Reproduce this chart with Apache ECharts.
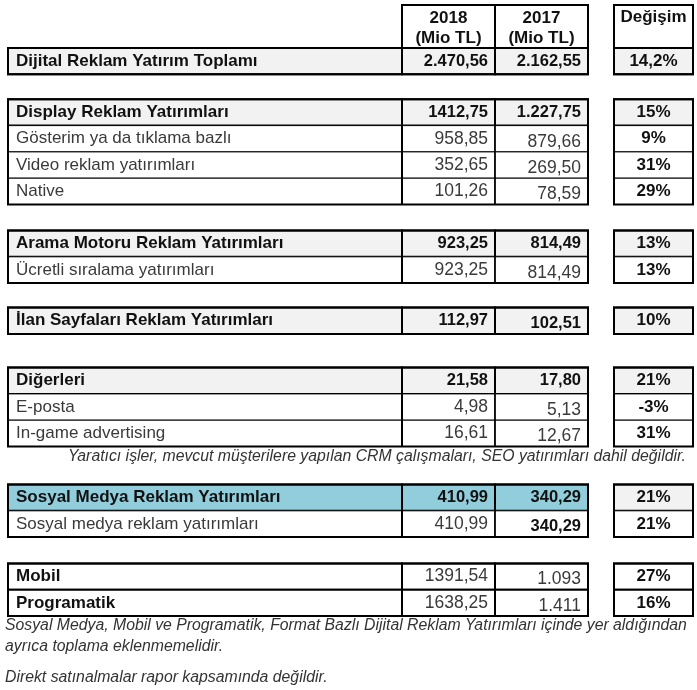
<!DOCTYPE html>
<html>
<head>
<meta charset="utf-8">
<script src="https://cdn.jsdelivr.net/npm/echarts@6/dist/echarts.min.js"></script>
<style>
  html, body { margin: 0; background: #fff; }
  #main { width: 697px; height: 690px; }
</style>
</head>
<body>
<div id="main"></div>
<script>
// table data
var labels = [
  'Dijital Reklam Yatırım Toplamı',
  'Display Reklam Yatırımları',
  'Gösterim ya da tıklama bazlı',
  'Video reklam yatırımları',
  'Native',
  'Arama Motoru Reklam Yatırımları',
  'Ücretli sıralama yatırımları',
  'İlan Sayfaları Reklam Yatırımları',
  'Diğerleri',
  'E-posta',
  'In-game advertising',
  'Sosyal Medya Reklam Yatırımları',
  'Sosyal medya reklam yatırımları',
  'Mobil',
  'Programatik'
];
var v2018 = ['2.470,56', '1412,75', '958,85', '352,65', '101,26', '923,25', '923,25', '112,97',
  '21,58', '4,98', '16,61', '410,99', '410,99', '1391,54', '1638,25'];
var v2017 = ['2.162,55', '1.227,75', '879,66', '269,50', '78,59', '814,49', '814,49', '102,51',
  '17,80', '5,13', '12,67', '340,29', '340,29', '1.093', '1.411'];
var change = ['14,2%', '15%', '9%', '31%', '29%', '13%', '13%', '10%',
  '21%', '-3%', '31%', '21%', '21%', '27%', '16%'];
// row type: total / head / sub / social / plain (bold label, white)
var kinds = ['total', 'head', 'sub', 'sub', 'sub', 'head', 'sub', 'head',
  'head', 'sub', 'sub', 'social', 'sub', 'plain', 'plain'];
var groups = [0, 1, 1, 1, 1, 2, 2, 3, 4, 4, 4, 5, 5, 6, 6];
var yearHeads = ['2018\n(Mio TL)', '2017\n(Mio TL)'];
var changeHead = 'Değişim';
var noteTop = 'Yaratıcı işler, mevcut müşterilere yapılan CRM çalışmaları, SEO yatırımları dahil değildir.';
var notesBottom = [
  'Sosyal Medya, Mobil ve Programatik, Format Bazlı Dijital Reklam Yatırımları içinde yer aldığından',
  'ayrıca toplama eklenmemelidir.',
  'Direkt satınalmalar rapor kapsamında değildir.'
];
var bold2017 = [12];
var low2017 = [2, 3, 4, 6, 7, 9, 10, 12, 13, 14]; // 2017 cells sit a bit lower in the source

// layout (pixels)
var xL = 8, x18 = 402, x17 = 495, xEnd = 588, xC0 = 614, xC1 = 693;
var ROW_H = 26.3, TOP = 48, HEAD_TOP = 5;
var gapAfter = [25, 26, 24.5, 33.7, 38, 26.4];
var FONT = '"Liberation Sans", Arial, sans-serif';

var rowTop = [];
var y = TOP;
for (var i = 0; i < labels.length; i++) {
  if (i > 0 && groups[i] !== groups[i - 1]) y += gapAfter[groups[i - 1]];
  rowTop.push(y);
  y += ROW_H;
}
var groupBox = [];
groups.forEach(function (g, i) {
  if (!groupBox[g]) groupBox[g] = [rowTop[i], rowTop[i] + ROW_H];
  groupBox[g][1] = rowTop[i] + ROW_H;
});

var fills = { total: '#f2f2f2', head: '#f2f2f2', sub: '#ffffff', social: '#92cddc', plain: '#ffffff' };

function txt(s, x, y, align, bold, size, color) {
  return {
    type: 'text',
    style: {
      text: s, x: x, y: y, align: align, verticalAlign: 'middle',
      font: (bold ? 'bold ' : '') + (size || 17) + 'px ' + FONT,
      fill: color || (bold ? '#111' : '#3a3a3a')
    }
  };
}
function box(x0, y0, x1, y1, fill, lw) {
  return {
    type: 'rect',
    shape: { x: x0, y: y0, width: x1 - x0, height: y1 - y0 },
    style: { fill: fill, stroke: '#000', lineWidth: lw }
  };
}
function cols(api) {
  return [xL, x18, x17, xEnd, xC0, xC1].map(function (v) { return api.coord([v, 0])[0]; });
}

function renderRow(params, api) {
  var i = api.value(0);
  var t = api.coord([0, rowTop[i]])[1];
  var b = api.coord([0, rowTop[i] + ROW_H])[1];
  var mid = (t + b) / 2;
  var k = kinds[i];
  var isHead = k !== 'sub';
  var boldNum = k !== 'sub' && k !== 'plain';
  var b17 = boldNum || bold2017.indexOf(i) >= 0;
  var lw = isHead ? 2 : 1;
  var f = fills[k];
  var c = cols(api);
  var off17 = low2017.indexOf(i) >= 0 ? 3 : 0;
  return {
    type: 'group',
    children: [
      box(c[0], t, c[1], b, f, lw),
      box(c[1], t, c[2], b, f, lw),
      box(c[2], t, c[3], b, f, lw),
      box(c[4], t, c[5], b, k === 'social' ? '#f2f2f2' : f, lw),
      txt(labels[i], c[0] + 8, mid, 'left', isHead, 17),
      txt(v2018[i], c[2] - 7, mid, 'right', boldNum, boldNum ? 16.5 : 17.5),
      txt(v2017[i], c[3] - 7, mid + off17, 'right', b17, b17 ? 16.5 : 17.5),
      txt(change[i], (c[4] + c[5]) / 2, mid, 'center', true, 17)
    ]
  };
}

function renderGroup(params, api) {
  var g = api.value(0);
  var t = api.coord([0, groupBox[g][0]])[1];
  var b = api.coord([0, groupBox[g][1]])[1];
  var c = cols(api);
  return {
    type: 'group',
    children: [
      box(c[0], t, c[3], b, 'none', 2),
      box(c[4], t, c[5], b, 'none', 2),
      { type: 'line', shape: { x1: c[1], y1: t, x2: c[1], y2: b }, style: { stroke: '#000', lineWidth: 2 } },
      { type: 'line', shape: { x1: c[2], y1: t, x2: c[2], y2: b }, style: { stroke: '#000', lineWidth: 1.5 } }
    ]
  };
}

function renderHead(params, api) {
  var t = api.coord([0, HEAD_TOP])[1];
  var b = api.coord([0, TOP])[1];
  var c = cols(api);
  var l18 = yearHeads[0].split('\n'), l17 = yearHeads[1].split('\n');
  return {
    type: 'group',
    children: [
      box(c[1], t, c[2], b, '#fff', 2),
      box(c[2], t, c[3], b, '#fff', 2),
      box(c[4], t, c[5], b, '#fff', 2),
      txt(l18[0], (c[1] + c[2]) / 2, t + 13, 'center', true, 17),
      txt(l18[1], (c[1] + c[2]) / 2, t + 33, 'center', true, 17),
      txt(l17[0], (c[2] + c[3]) / 2, t + 13, 'center', true, 17),
      txt(l17[1], (c[2] + c[3]) / 2, t + 33, 'center', true, 17),
      txt(changeHead, (c[4] + c[5]) / 2, t + 12, 'center', true, 17)
    ]
  };
}

var chart = echarts.init(document.getElementById('main'));
var noteY = groupBox[4][1];
var noteY2 = groupBox[6][1];
var noteFont = 'italic 15.8px ' + FONT;
chart.setOption({
  animation: false,
  grid: { left: 0, right: 0, top: 0, bottom: 0 },
  xAxis: { type: 'value', min: 0, max: 697, show: false },
  yAxis: { type: 'value', min: 0, max: 690, inverse: true, show: false },
  series: [
    { type: 'custom', renderItem: renderHead, data: [[0]], silent: true },
    { type: 'custom', renderItem: renderRow, data: labels.map(function (l, i) { return [i]; }), silent: true },
    { type: 'custom', renderItem: renderGroup, data: groupBox.map(function (b, g) { return [g]; }), silent: true, z: 3 }
  ],
  graphic: [
    { type: 'text', right: 11, top: noteY + 2, style: { text: noteTop, font: noteFont, fill: '#333' } },
    { type: 'text', left: 5, top: noteY2 + 2, style: { text: notesBottom[0], font: noteFont, fill: '#333' } },
    { type: 'text', left: 5, top: noteY2 + 23, style: { text: notesBottom[1], font: noteFont, fill: '#333' } },
    { type: 'text', left: 5, top: noteY2 + 54, style: { text: notesBottom[2], font: noteFont, fill: '#333' } }
  ]
});
</script>
</body>
</html>
